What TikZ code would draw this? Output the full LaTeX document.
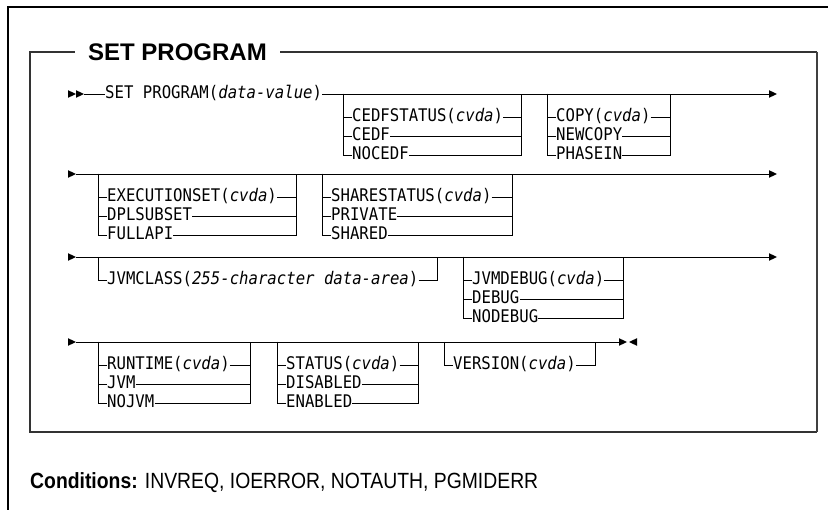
\documentclass[tikz,border=0pt]{standalone}
\usepackage{fontspec}
\setmainfont{Liberation Sans}
\newfontfamily\rrfont{DejaVu Sans Mono}[FakeStretch=0.9]
\newfontfamily\condfont{Liberation Sans}[FakeStretch=0.88]
\tikzset{
  rr/.style={font=\rrfont\fontsize{17.4}{20}\selectfont, inner sep=0pt, text height=12.6pt, text depth=3.2pt, anchor=west},
  rail/.style={line width=0.9pt, black},
  frame/.style={line width=1.3pt, black},
  boxline/.style={line width=1.3pt, black!80},
}
\newcommand\rtip[1]{\fill (#1) -- ++(-8,-3.8) -- ++(0,7.6) -- cycle;}
\newcommand\ltip[1]{\fill (#1) -- ++(8,-3.8) -- ++(0,7.6) -- cycle;}
\newcommand\railgroup[5]{%
  \coordinate (#1-tl) at (#2,#4);
  \coordinate (#1-tr) at (#3,#4);
  \foreach \txt [count=\i] in {#5} {
    \pgfmathsetmacro\yy{#4+23+19*(\i-1)}
    \node[rr] (#1-\i) at (#2+9,\yy) {\txt};
    \draw[rail] (#1-tl) |- (#1-\i.west);
    \draw[rail] (#1-\i.east) -| (#1-tr);
  }
}
\begin{document}
\begin{tikzpicture}[x=1pt,y=-1pt]
\useasboundingbox[fill=white] (0,0) rectangle (828,510);
% outer frame
\coordinate (o-bl) at (8,510);
\coordinate (o-tl) at (8,7);
\coordinate (o-tr) at (828,7);
\draw[frame] (o-bl) -- (o-tl) -- (o-tr);
% title and inner box
\node[font=\bfseries\fontsize{24}{28}\selectfont, inner xsep=13pt, inner ysep=0pt] (title) at (177.5,52) {SET PROGRAM};
\coordinate (b-tl) at (30,52);
\coordinate (b-bl) at (30,432);
\coordinate (b-br) at (817,432);
\coordinate (b-tr) at (817,52);
\draw[boxline] (title.west) -- (b-tl) -- (b-bl) -- (b-br);
\draw[boxline] (title.east) -- (b-tr);
\draw[line width=2pt, black!75] (b-tr) -- (b-br);
% row 1
\rtip{76,94}\rtip{84,94}
\coordinate (r1s) at (84,94);
\coordinate (r1e) at (769,94);
\node[rr] (setp) at (105,94) {SET PROGRAM(\textit{data-value})};
\draw[rail] (r1s) -- (setp.west);
\draw[rail] (setp.east) -- (r1e);
\rtip{777,94}
\railgroup{g1}{343}{521}{94}{CEDFSTATUS(\textit{cvda}),CEDF,NOCEDF}
\railgroup{g2}{547}{670}{94}{COPY(\textit{cvda}),NEWCOPY,PHASEIN}
% row 2
\coordinate (r2s) at (76,174);
\coordinate (r2e) at (769,174);
\rtip{r2s}
\draw[rail] (r2s) -- (r2e);
\rtip{777,174}
\railgroup{g3}{98}{296}{174}{EXECUTIONSET(\textit{cvda}),DPLSUBSET,FULLAPI}
\railgroup{g4}{322}{512}{174}{SHARESTATUS(\textit{cvda}),PRIVATE,SHARED}
% row 3
\coordinate (r3s) at (76,257);
\coordinate (r3e) at (769,257);
\rtip{r3s}
\draw[rail] (r3s) -- (r3e);
\rtip{777,257}
\railgroup{g5}{98}{437}{257}{JVMCLASS(\textit{255-character data-area})}
\railgroup{g6}{463}{623}{257}{JVMDEBUG(\textit{cvda}),DEBUG,NODEBUG}
% row 4
\coordinate (r4s) at (76,342);
\coordinate (r4e) at (619,342);
\rtip{r4s}
\draw[rail] (r4s) -- (r4e);
\rtip{627,342}
\ltip{629,342}
\railgroup{g7}{98}{250}{342}{RUNTIME(\textit{cvda}),JVM,NOJVM}
\railgroup{g8}{277}{418}{342}{STATUS(\textit{cvda}),DISABLED,ENABLED}
\railgroup{g9}{444}{595}{342}{VERSION(\textit{cvda})}
% conditions
\node[anchor=west, inner sep=0pt, font=\condfont\fontsize{22}{26}\selectfont] (cond) at (30,483) {\textbf{Conditions:} INVREQ, IOERROR, NOTAUTH, PGMIDERR};
\end{tikzpicture}
\end{document}
